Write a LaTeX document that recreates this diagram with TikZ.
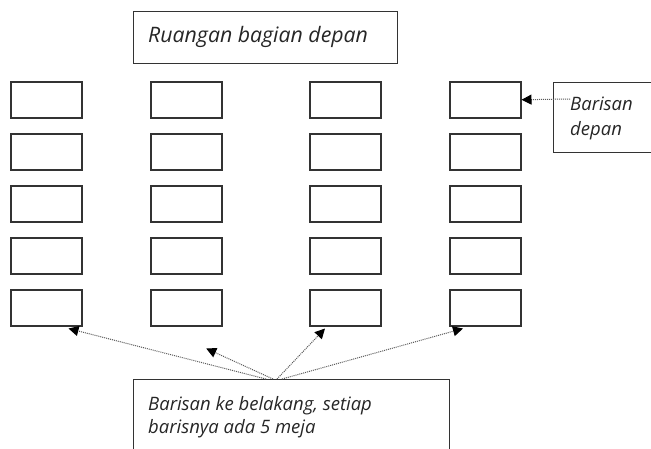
\documentclass[tikz,border=0pt]{standalone}
\usepackage{fontspec}
\setmainfont{Open Sans}
\usetikzlibrary{arrows.meta}
\begin{document}
\begin{tikzpicture}[x=1pt,y=-1pt,
 desk/.style={draw=black!80,line width=1.5pt,minimum width=71pt,minimum height=36pt,inner sep=0pt,anchor=north west},
 lbl/.style={font=\fontsize{18.5}{22}\selectfont\itshape,text=black!85,anchor=base west,inner sep=0pt},
 biglbl/.style={lbl,font=\fontsize{21.3}{25}\selectfont\itshape},
 frame/.style={draw=black!80,line width=1.3pt,inner sep=0pt,anchor=north west},
 conn/.style={densely dotted,line width=1pt,draw=black!65,-{Triangle[length=10pt,width=10pt,fill=black,color=black]}}]
\useasboundingbox (0,0) rectangle (651,448);
\clip (0,0) rectangle (651,448);
% desks
\foreach \c/\x in {1/10,2/150,3/309,4/449}{
  \foreach \r/\y in {1/81,2/133,3/185,4/237,5/289}{
    \node[desk] (d\c\r) at (\x,\y) {};
  }
}
% top box
\node[frame,minimum width=264pt,minimum height=52pt] (front) at (133,11) {};
\node[biglbl] (fronttext) at (148,42) {Ruangan bagian depan};
% right box
\node[frame,minimum width=110pt,minimum height=70pt] (rbox) at (553,82) {};
\node[lbl] (rt1) at (570,110) {Barisan};
\node[lbl] (rt2) at (570,135) {depan};
% bottom box
\node[frame,minimum width=316pt,minimum height=100pt] (bbox) at (133,379) {};
\node[lbl] (bt1) at (148,410) {Barisan ke belakang, setiap};
\node[lbl] (bt2) at (148,433) {barisnya ada 5 meja};
% connectors
\coordinate (rs) at ([yshift=-17pt]rbox.north west);
\draw[conn] ([xshift=17pt]rs) -- (d41.east);
\draw[conn] ([xshift=133pt]bbox.north west) -- ([xshift=-14pt,yshift=-2pt]d15.south east);
\draw[conn] ([xshift=140pt]bbox.north west) -- ([xshift=20pt,yshift=-22pt]d25.south);
\draw[conn] ([xshift=144pt]bbox.north west) -- ([xshift=16pt,yshift=-2pt]d35.south west);
\draw[conn] ([xshift=149pt]bbox.north west) -- ([xshift=14pt,yshift=-2pt]d45.south west);
\end{tikzpicture}
\end{document}
